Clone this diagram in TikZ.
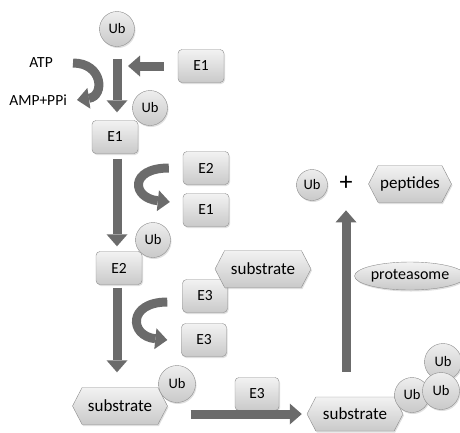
\documentclass[tikz,border=0pt]{standalone}
\usepackage{fontspec}
\setmainfont{Carlito}
\usetikzlibrary{arrows.meta,shapes.symbols,shapes.geometric,shadows}
\definecolor{arrowgray}{gray}{0.42}
\definecolor{linegray}{gray}{0.55}
\begin{document}
\begin{tikzpicture}[x=1pt,y=-1pt]
\tikzstyle{box}=[rectangle, rounded corners=4pt, minimum width=46pt, minimum height=33pt, inner sep=2pt, draw=linegray, top color=gray!10, bottom color=gray!42, drop shadow={opacity=0.25,shadow xshift=1pt,shadow yshift=-1.5pt}, font=\fontsize{15.5}{15.5}\selectfont]
\tikzstyle{ub}=[circle, minimum size=35pt, inner sep=0pt, draw=linegray, top color=gray!14, bottom color=gray!42, drop shadow={opacity=0.25,shadow xshift=1pt,shadow yshift=-1.5pt}, font=\fontsize{14.5}{14.5}\selectfont]
\tikzstyle{hexa}=[signal, signal to=west and east, signal pointer angle=125, minimum width=96pt, minimum height=37pt, inner sep=2pt, draw=linegray, top color=gray!10, bottom color=gray!42, drop shadow={opacity=0.25,shadow xshift=1pt,shadow yshift=-1.5pt}, font=\fontsize{17}{17}\selectfont]
\tikzstyle{blk}=[draw=arrowgray, line width=9pt, -{Triangle[width=21pt,length=12pt,line width=0pt]}]
\tikzstyle{txt}=[inner sep=0pt, font=\fontsize{15.5}{15.5}\selectfont]
\useasboundingbox (0,0) rectangle (460,432);

% Activation by E1
\node[ub] (ub1) at (117,29) {Ub};
\node[box] (e1a) at (201,66) {E1};
\node[txt, anchor=east] (atp) at (53,63) {ATP};
\node[txt, anchor=east] (amp) at (67,100) {AMP+PPi};
\node[ub] (ub2) at (150,108) {Ub};
\node[box] (e1b) at (115,137) {E1};

% Transfer to E2
\node[box] (e2a) at (206,168) {E2};
\node[box] (e1c) at (206,210) {E1};
\node[ub] (ub3) at (153,240) {Ub};
\node[box] (e2b) at (119,268) {E2};

% Ligation by E3
\node[box, minimum width=45pt] (e3a) at (205,296) {E3};
\node[hexa] (sub1) at (263,269) {substrate};
\node[box, minimum width=45pt] (e3b) at (204,340) {E3};
\node[hexa, minimum width=95pt] (sub2) at (120,406) {substrate};
\node[ub, minimum size=37pt] (ub4) at (177,384) {Ub};

% Polyubiquitination
\node[box, minimum width=44pt] (e3c) at (257,394) {E3};
\node[hexa, minimum height=34pt] (sub3) at (355,414) {substrate};
\node[ub, minimum size=37pt] (ub7) at (443,362) {Ub};
\node[ub] (ub5) at (412,395) {Ub};
\node[ub, minimum size=37pt] (ub6) at (441,391) {Ub};

% Degradation
\node[ub, minimum size=31pt] (ubr) at (312,185) {Ub};
\node[inner sep=0pt, font=\fontsize{26}{26}\selectfont] (plus) at (346,183) {+};
\node[hexa, minimum width=83pt, minimum height=37pt] (pep) at (410,184) {peptides};
\node[ellipse, minimum width=101pt, minimum height=28pt, inner sep=0pt, draw=linegray, top color=gray!10, bottom color=gray!42, drop shadow={opacity=0.25,shadow xshift=1pt,shadow yshift=-1.5pt}, font=\fontsize{16}{16}\selectfont] (prot) at (410,276) {proteasome};

% Arrows
\draw[blk, shorten <=12pt, shorten >=8pt] (ub1.south) -- (ub1.south |- e1b.north);
\draw[blk, shorten <=14pt, shorten >=11pt] (e1a.west) -- (e1a.west -| ub1);
\draw[blk] ([xshift=20pt]atp.east) .. controls +(30,0) and +(28,-4) .. ([xshift=10pt]amp.east);
\draw[blk, shorten <=5pt, shorten >=5pt] (e1b.south -| ub1) -- (e2b.north -| ub1);
\draw[blk] ([shift={(-14,0)}]e2a.west) .. controls +(-40,0) and +(-38,-4) .. ([shift={(-13,-8)}]e1c.west);
\draw[blk, shorten <=3pt, shorten >=15pt] (e2b.south -| ub1) -- (sub2.north -| ub1);
\draw[blk] ([shift={(-15,6)}]e3a.west) .. controls +(-40,0) and +(-38,-4) .. ([shift={(-14,0)}]e3b.west);
\draw[blk, shorten >=5pt] ([xshift=-5pt]ub4.east |- sub3.west) -- (sub3.west);
\draw[blk, shorten <=25pt, shorten >=20pt] (plus.south |- sub3.north) -- (plus.south);
\end{tikzpicture}
\end{document}
